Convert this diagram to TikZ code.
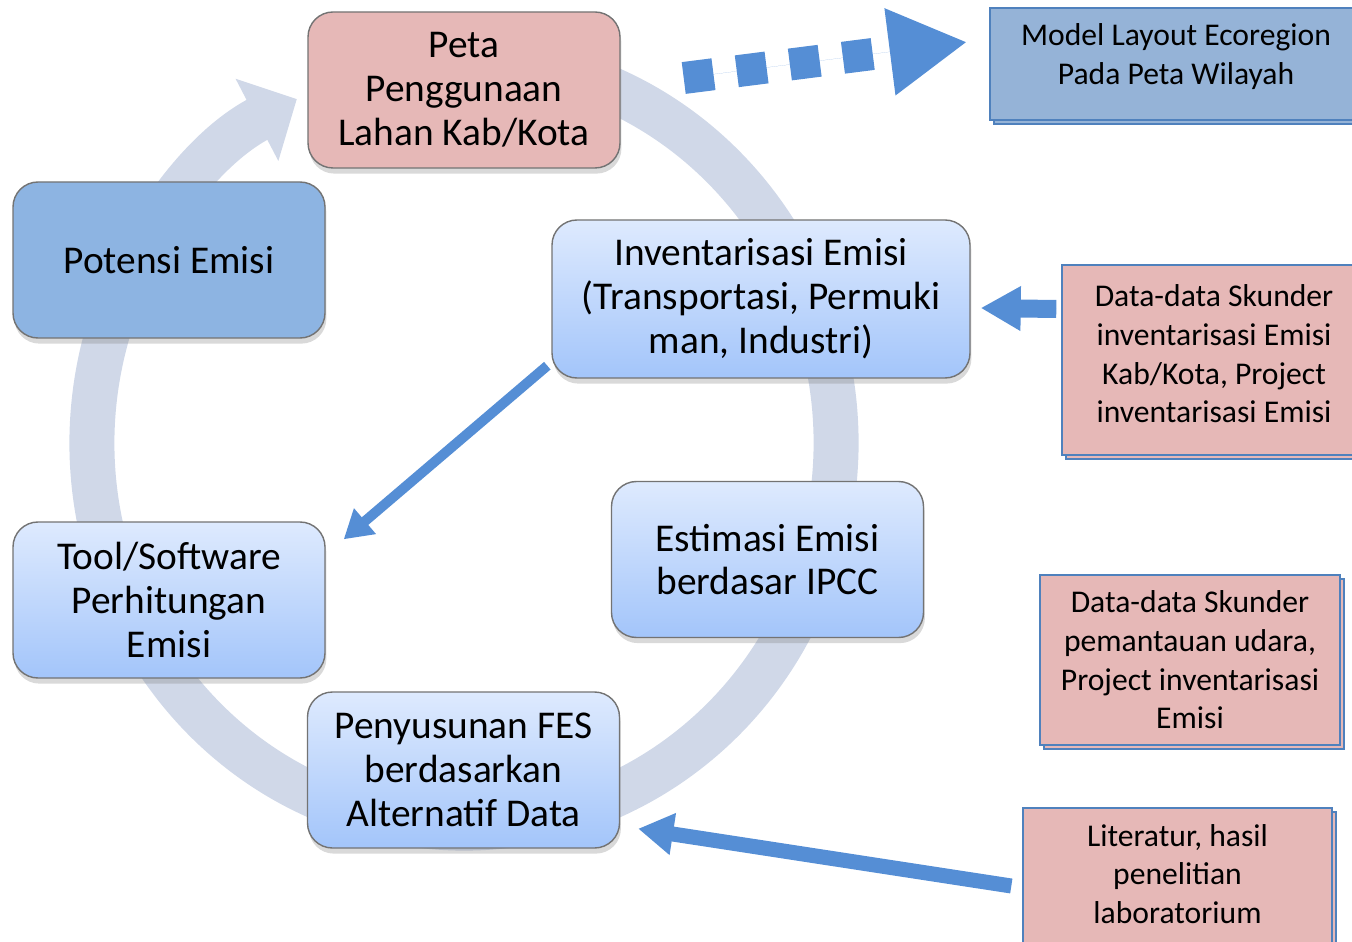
\documentclass[tikz,border=0pt]{standalone}
\usepackage{fontspec}
\setmainfont{Carlito}
\usepackage{tikz}
\usetikzlibrary{arrows.meta,shadows,positioning}

\definecolor{cincin}{RGB}{208,216,232}
\definecolor{panahbiru}{RGB}{85,142,213}
\definecolor{merahmuda}{RGB}{230,184,183}
\definecolor{birupekat}{RGB}{141,180,226}
\definecolor{birumodel}{RGB}{149,179,215}
\definecolor{garisbiru}{RGB}{79,129,189}
\definecolor{gradatas}{RGB}{222,234,254}
\definecolor{gradbawah}{RGB}{163,197,250}

\tikzset{
  siklus/.style={draw=black!55, rounded corners=0.25cm, minimum width=3.12cm,
    minimum height=1.56cm, align=center, font=\fontsize{11.2}{12.5}\selectfont,
    drop shadow={shadow xshift=0.4pt, shadow yshift=-1.6pt, opacity=0.3}},
  gradasi/.style={top color=gradatas, bottom color=gradbawah},
  sumber/.style={draw=garisbiru, fill=merahmuda, align=center,
    font=\fontsize{9}{11}\selectfont,
    copy shadow={shadow xshift=0.04cm, shadow yshift=-0.04cm}},
  blokpanah/.style={draw=panahbiru, fill=panahbiru, line width=#1}
}

\begin{document}
\begin{tikzpicture}
    \useasboundingbox (0,0) rectangle (13.52,-9.42);

    % Lingkaran siklus di belakang
    \coordinate (pusat) at (4.64,-4.43);
    \draw[cincin, line width=0.45cm, -{Triangle[width=0.9cm,length=0.45cm]}]
        (pusat) ++(75:3.72 and 3.85) arc[start angle=75, end angle=-243.3, x radius=3.72, y radius=3.85];

    % Kotak-kotak siklus
    \node[siklus, fill=merahmuda] (peta) at (4.64,-0.90) {Peta\\Penggunaan\\Lahan Kab/Kota};
    \node[siklus, fill=birupekat] (potensi) at (1.69,-2.60) {Potensi Emisi};
    \node[siklus, gradasi, minimum width=4.18cm, minimum height=1.58cm] (inventaris) at (7.61,-2.99)
        {Inventarisasi Emisi\\(Transportasi, Permuki\\man, Industri)};
    \node[siklus, gradasi] (estimasi) at (7.675,-5.595) {Estimasi Emisi\\berdasar IPCC};
    \node[siklus, gradasi] (tool) at (1.69,-6.00) {Tool/Software\\Perhitungan\\Emisi};
    \node[siklus, gradasi] (penyusunan) at (4.635,-7.70) {Penyusunan FES\\berdasarkan\\Alternatif Data};

    % Kotak sumber data di kanan
    \node[sumber, fill=birumodel, minimum width=3.72cm, minimum height=1.12cm,
        text depth=0.2cm] (model) at (11.76,-0.64) {Model Layout Ecoregion\\Pada Peta Wilayah};
    \node[sumber, minimum width=3.04cm, minimum height=1.90cm, text depth=0.12cm] (data1) at (12.14,-3.60)
        {Data-data Skunder\\inventarisasi Emisi\\Kab/Kota, Project\\inventarisasi Emisi};
    \node[sumber, minimum width=3.00cm, minimum height=1.70cm] (data2) at (11.90,-6.60)
        {Data-data Skunder\\pemantauan udara,\\Project inventarisasi\\Emisi};
    \node[sumber, minimum width=3.09cm, minimum height=1.42cm, text depth=0.1cm] (literatur) at (11.775,-8.79)
        {Literatur, hasil\\penelitian\\laboratorium};

    % Panah-panah biru
    \draw[blokpanah=0.32cm, dash pattern=on 0.3cm off 0.235cm,
        -{Triangle[width=0.82cm,length=0.78cm]}]
        ([xshift=0.63cm,yshift=0.12cm]peta.east) -- ([xshift=-0.22cm,yshift=0.22cm]model.west);
    \draw[blokpanah=0.18cm, -{Triangle[width=0.42cm,length=0.40cm]}]
        ([xshift=-0.05cm,yshift=0.51cm]data1.west) -- ([xshift=0.10cm,yshift=-0.09cm]inventaris.east);
    \draw[blokpanah=0.10cm, -{Triangle[width=0.32cm,length=0.28cm]}]
        ([xshift=-0.04cm,yshift=0.13cm]inventaris.south west) -- ([xshift=0.18cm,yshift=-0.18cm]tool.north east);
    \draw[blokpanah=0.15cm, -{Triangle[width=0.40cm,length=0.35cm]}]
        ([xshift=-0.11cm,yshift=-0.07cm]literatur.west) -- ([xshift=0.18cm,yshift=0.20cm]penyusunan.south east);
\end{tikzpicture}
\end{document}
